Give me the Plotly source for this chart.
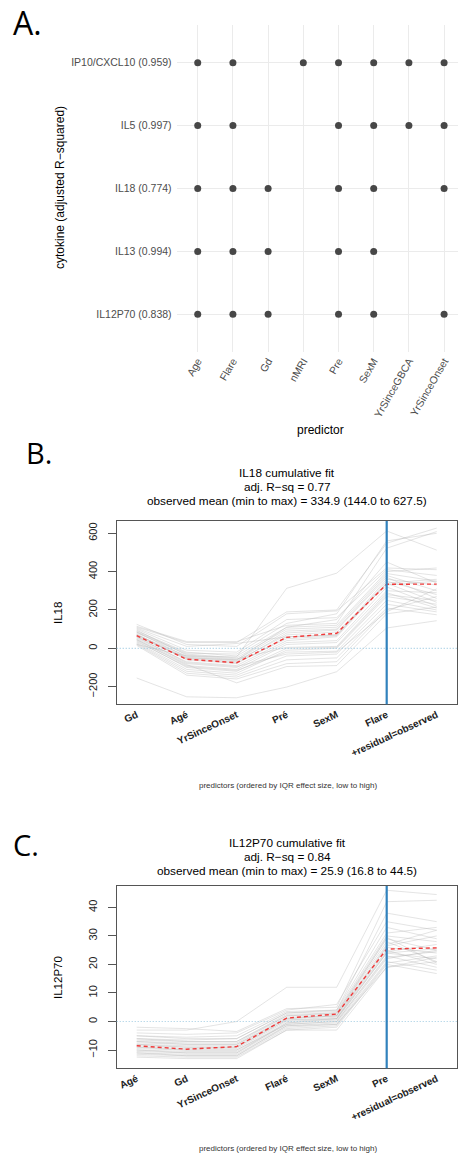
import plotly.graph_objects as go

W, H = 458, 1159


def fx(x):
    return x / W


def fy(y):
    return 1 - y / H


# ---------------- Panel A data ----------------
predictors = ["Age", "Flare", "Gd", "nMRI", "Pre", "SexM", "YrSinceGBCA", "YrSinceOnset"]
cytokines = ["IL12P70 (0.838)", "IL13 (0.994)", "IL18 (0.774)", "IL5 (0.997)", "IP10/CXCL10 (0.959)"]
sel_il12p70 = ["Age", "Flare", "Gd", "Pre", "SexM", "YrSinceOnset"]
sel_il13 = ["Age", "Flare", "Gd", "Pre", "SexM"]
sel_il18 = ["Age", "Flare", "Gd", "Pre", "SexM", "YrSinceOnset"]
sel_il5 = ["Age", "Flare", "Pre", "SexM", "YrSinceGBCA", "YrSinceOnset"]
sel_ip10 = ["Age", "Flare", "nMRI", "Pre", "SexM", "YrSinceGBCA", "YrSinceOnset"]
selections = [sel_il12p70, sel_il13, sel_il18, sel_il5, sel_ip10]

# ---------------- Panel B data (IL18) ----------------
b_steps = ["Gd", "Agé", "YrSinceOnset", "Pré", "SexM", "Flare", "+residual=observed"]
b_mean = [66, -57, -75, 57, 78, 334, 335]
b_lines = [
    [-155, -253, -258, -202, -122, 106, 144],
    [20, -40, -45, 313, 392, 612, 512],
    [110, 30, 30, 190, 200, 548, 627],
    [115, 35, 35, 120, 130, 522, 609],
    [125, 20, 10, 180, 195, 419, 410],
    [100, -10, -20, 150, 160, 410, 380],
    [90, -20, -40, 110, 120, 400, 419],
    [80, -30, -50, 100, 110, 390, 350],
    [70, -40, -60, 90, 100, 380, 300],
    [60, -50, -70, 80, 95, 370, 260],
    [75, -60, -80, 60, 70, 360, 330],
    [65, -55, -75, 50, 65, 350, 280],
    [55, -70, -90, 40, 60, 340, 240],
    [85, -45, -65, 70, 85, 330, 350],
    [50, -80, -100, 30, 40, 320, 220],
    [45, -90, -110, 20, 30, 300, 290],
    [95, -35, -55, 5, 10, 290, 210],
    [40, -100, -120, 0, 5, 280, 250],
    [30, -110, -130, -10, 0, 270, 230],
    [35, -95, -115, -20, -15, 250, 200],
    [25, -120, -140, -40, -30, 230, 190],
    [20, -130, -150, -60, -50, 210, 175],
    [15, -140, -160, -80, -70, 200, 270],
    [60, -75, -95, -30, -20, 190, 310],
    [45, -85, -180, -95, -90, 180, 215],
    [105, 10, 25, 60, 70, 340, 360],
    [70, -50, -60, 110, 150, 450, 340],
    [85, -25, -30, 130, 180, 560, 600],
]
b_yticks = [-200, 0, 200, 400, 600]
b_yticktext = ["\u2212200", "0", "200", "400", "600"]

# ---------------- Panel C data (IL12P70) ----------------
c_steps = ["Agé", "Gd", "YrSinceOnset", "Flaré", "SexM", "Pre", "+residual=observed"]
c_mean = [-8.5, -9.7, -8.8, 1.2, 2.6, 25.4, 25.8]
c_lines = [
    [-3, -3, 0, 12, 12, 46, 44.5],
    [-2, -2.5, -3.5, 4.5, 5, 42, 42.5],
    [-4, -4.5, -4, 4, 6, 35, 32],
    [-5, -5.5, -5, 3.5, 4, 33, 29],
    [-6, -6.5, -6, 3, 3.5, 31, 33],
    [-6.5, -7, -7, 2.5, 3, 29, 25],
    [-7, -7.5, -7.5, 2, 2.5, 28, 21],
    [-7.5, -8, -8, 1.5, 2, 27, 32],
    [-8, -8.5, -8.5, 1, 2, 26, 24],
    [-8.5, -9, -9, 0.5, 1.5, 25, 20],
    [-9, -9.5, -9.5, 0, 1, 24.5, 27],
    [-9.5, -10, -10, -0.5, 0.5, 24, 22],
    [-10, -10.5, -10.5, -1, 0, 23, 19],
    [-10.5, -11, -11, -1.5, -0.5, 22, 25],
    [-11, -11.5, -11.5, -2, -1, 21, 18],
    [-11.5, -12, -12, -2.5, -1.5, 20.5, 23],
    [-12, -12.5, -12.5, -3, -2, 20, 16.8],
    [-12.5, -13, -13, -3, -3, 19, 21],
    [-8, -9, -9, 0.5, 1, 26.5, 30],
    [-7, -8, -8, 1, 2, 29.5, 20.5],
    [-9, -10, -10, -1, 0, 22.5, 24.5],
    [-10, -11, -11, -0.5, 1, 24, 25.5],
    [-6, -7, -7, 2, 3, 30, 28],
    [-11, -12, -12, -1.5, -1, 19, 22.5],
    [-5, -6, -6, 3, 4, 38, 35],
]
c_yticks = [-10, 0, 10, 20, 30, 40]
c_yticktext = ["\u221210", "0", "10", "20", "30", "40"]

FONT = "Liberation Sans"
GRAY_LINE = "rgba(180,180,180,0.36)"

fig = go.Figure()

# ---- Panel A dots ----
ax, ay = [], []
for ci, sel in enumerate(selections):
    for p in sel:
        ax.append(predictors.index(p))
        ay.append(ci)
fig.add_trace(go.Scatter(x=ax, y=ay, mode="markers", xaxis="x", yaxis="y",
                         marker=dict(size=7, color="#474747"), showlegend=False,
                         hoverinfo="skip", cliponaxis=False))


def add_panel(lines, mean, xa, ya):
    xs, ys = [], []
    for ln in lines:
        xs += list(range(1, len(ln) + 1)) + [None]
        ys += list(ln) + [None]
    fig.add_trace(go.Scatter(x=xs, y=ys, mode="lines", xaxis=xa, yaxis=ya,
                             line=dict(color=GRAY_LINE, width=1), showlegend=False,
                             hoverinfo="skip"))
    fig.add_trace(go.Scatter(x=list(range(1, len(mean) + 1)), y=mean, mode="lines",
                             xaxis=xa, yaxis=ya,
                             line=dict(color="#F03A3A", width=1.4, dash="4px,3px"),
                             showlegend=False, hoverinfo="skip"))


add_panel(b_lines, b_mean, "x2", "y2")
add_panel(c_lines, c_mean, "x3", "y3")

common_box = dict(showline=True, mirror=True, linecolor="#555555", linewidth=1,
                  showgrid=False, zeroline=False, automargin=False)

fig.update_layout(
    width=W, height=H, margin=dict(l=0, r=0, t=0, b=0, autoexpand=False),
    paper_bgcolor="white", plot_bgcolor="white",
    font=dict(family=FONT),
    xaxis=dict(domain=[fx(176.6), 1], range=[-0.6, 7.395], tickvals=list(range(8)),
               ticktext=predictors, tickangle=-60, showgrid=True, gridcolor="#EBEBEB",
               gridwidth=1.1, zeroline=False, showline=False, ticks="", automargin=False,
               tickfont=dict(size=10.5, color="#4D4D4D", family=FONT), anchor="y"),
    yaxis=dict(domain=[fy(352), fy(25)], range=[-0.6, 4.6], tickvals=list(range(5)),
               ticktext=cytokines, showgrid=True, gridcolor="#EBEBEB", gridwidth=1.1,
               zeroline=False, showline=False, ticks="", automargin=False,
               ticklabelstandoff=4,
               tickfont=dict(size=10.5, color="#4D4D4D", family=FONT), anchor="x"),
    xaxis2=dict(domain=[fx(116.7), fx(456.7)], range=[0.6, 7.4], tickvals=list(range(1, 8)),
                ticktext=b_steps, tickangle=-25, ticks="", anchor="y2",
                tickfont=dict(size=10, color="#222222", family=FONT, weight="bold"),
                **common_box),
    yaxis2=dict(domain=[fy(704.3), fy(521)], range=[-292, 664], tickvals=b_yticks,
                ticktext=b_yticktext, tickangle=-90, ticks="outside", ticklen=8,
                tickcolor="#555555", anchor="x2", ticklabelstandoff=6,
                tickfont=dict(size=11, color="#222222", family=FONT), **common_box),
    xaxis3=dict(domain=[fx(116.7), fx(456.7)], range=[0.6, 7.4], tickvals=list(range(1, 8)),
                ticktext=c_steps, tickangle=-25, ticks="", anchor="y3",
                tickfont=dict(size=10, color="#222222", family=FONT, weight="bold"),
                **common_box),
    yaxis3=dict(domain=[fy(1068.3), fy(886)], range=[-16.4, 47.5], tickvals=c_yticks,
                ticktext=c_yticktext, tickangle=-90, ticks="outside", ticklen=8,
                tickcolor="#555555", anchor="x3", ticklabelstandoff=6,
                tickfont=dict(size=11, color="#222222", family=FONT), **common_box),
)

shapes = []
for xa, ya, xv in [("x2", "y2", 6), ("x3", "y3", 6)]:
    shapes.append(dict(type="line", xref=xa + " domain", yref=ya, x0=0, x1=1, y0=0, y1=0,
                       line=dict(color="#9ECAE1", width=1.2, dash="1px,2px"), layer="above"))
    shapes.append(dict(type="line", xref=xa, yref=ya + " domain", x0=xv, x1=xv, y0=0, y1=1,
                       line=dict(color="#3182BD", width=2.2), layer="above"))
fig.update_layout(shapes=shapes)


def ann(text, x, y, size, color="#000000", angle=0, family=FONT, xanchor="center"):
    return dict(text=text, x=fx(x), y=fy(y), xref="paper", yref="paper", showarrow=False,
                xanchor=xanchor, yanchor="middle", textangle=angle,
                font=dict(size=size, color=color, family=family))


annotations = [
    ann("A.", 11, 22, 32, family="Open Sans", xanchor="left"),
    ann("B.", 24, 452, 29, family="Open Sans", xanchor="left"),
    ann("C.", 11, 844, 29, family="Open Sans", xanchor="left"),
    ann("cytokine (adjusted R\u2212squared)", 60, 188, 12, angle=-90),
    ann("predictor", 320, 430, 12),
    ann("IL18 cumulative fit", 287, 473, 11.8),
    ann("adj. R\u2212sq = 0.77", 287, 487, 11.8),
    ann("observed mean (min to max) = 334.9 (144.0 to 627.5)", 287, 501, 11.8),
    ann("IL18", 58, 613, 11.5, angle=-90),
    ann("predictors (ordered by IQR effect size, low to high)", 288, 785, 8, color="#333333"),
    ann("IL12P70 cumulative fit", 287, 843, 11.8),
    ann("adj. R\u2212sq = 0.84", 287, 857, 11.8),
    ann("observed mean (min to max) = 25.9 (16.8 to 44.5)", 287, 871, 11.8),
    ann("IL12P70", 58, 977, 11.5, angle=-90),
    ann("predictors (ordered by IQR effect size, low to high)", 288, 1148, 8, color="#333333"),
]
fig.update_layout(annotations=annotations)

fig.write_html(
    "out.html",
    config={"displayModeBar": False},
    post_script="document.body.style.margin='0';document.body.style.overflow='hidden';",
)
